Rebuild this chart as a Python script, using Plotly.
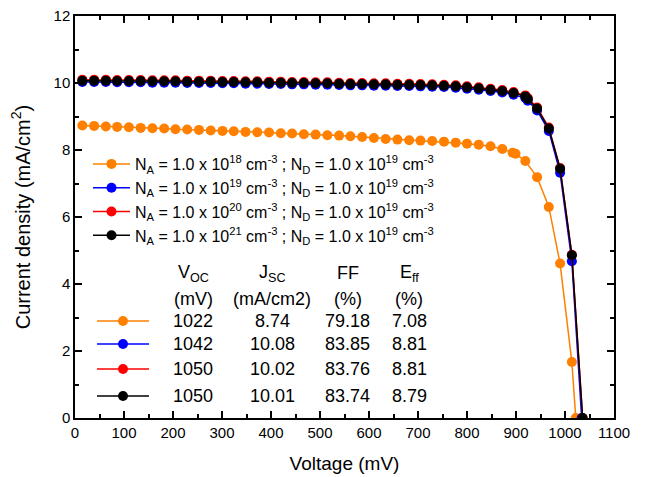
import plotly.graph_objects as go

# ---------------- data ----------------
v_org = [15, 39, 63, 86, 110, 134, 158, 182, 205, 229, 253, 277, 301, 324, 348, 372, 396, 420,
         443, 467, 491, 515, 539, 562, 586, 610, 634, 658, 682, 705, 729, 753, 777, 800, 824,
         848, 872, 893, 899, 919, 943, 967, 990, 1014, 1022]
j_org = [8.73, 8.72, 8.70, 8.69, 8.68, 8.66, 8.65, 8.64, 8.62, 8.61, 8.60, 8.58, 8.57, 8.56,
         8.54, 8.53, 8.52, 8.50, 8.49, 8.47, 8.46, 8.44, 8.43, 8.41, 8.39, 8.36, 8.33, 8.31,
         8.29, 8.28, 8.27, 8.25, 8.22, 8.19, 8.16, 8.11, 8.03, 7.92, 7.89, 7.67, 7.19, 6.30,
         4.61, 1.67, 0.0]

v_blu = [15, 39, 63, 86, 110, 134, 158, 182, 205, 229, 253, 277, 301, 324, 348, 372, 396, 420,
         443, 467, 491, 515, 539, 562, 586, 610, 634, 658, 682, 705, 729, 753, 777, 800, 824,
         848, 872, 895, 919, 924, 943, 967, 990, 1014, 1034]
j_blu = [10.03, 10.03, 10.03, 10.02, 10.02, 10.02, 10.01, 10.01, 10.01, 10.00, 10.00, 10.00,
         9.99, 9.99, 9.98, 9.98, 9.97, 9.97, 9.96, 9.96, 9.95, 9.95, 9.94, 9.93, 9.93, 9.92,
         9.92, 9.91, 9.91, 9.90, 9.89, 9.88, 9.86, 9.83, 9.80, 9.76, 9.72, 9.65, 9.55, 9.47,
         9.18, 8.57, 7.32, 4.68, 0.0]

v_red = [15, 39, 63, 86, 110, 134, 158, 182, 205, 229, 253, 277, 301, 324, 348, 372, 396, 420,
         443, 467, 491, 515, 539, 562, 586, 610, 634, 658, 682, 705, 729, 753, 777, 800, 824,
         848, 872, 895, 919, 924, 943, 967, 990, 1014, 1036]
j_red = [10.10, 10.10, 10.10, 10.09, 10.09, 10.09, 10.08, 10.08, 10.08, 10.07, 10.07, 10.07,
         10.06, 10.06, 10.05, 10.05, 10.04, 10.04, 10.03, 10.03, 10.02, 10.02, 10.01, 10.00,
         10.00, 9.99, 9.99, 9.98, 9.98, 9.97, 9.96, 9.95, 9.93, 9.90, 9.87, 9.83, 9.79, 9.73,
         9.63, 9.55, 9.27, 8.67, 7.46, 4.87, 0.0]

v_blk = [15, 39, 63, 86, 110, 134, 158, 182, 205, 229, 253, 277, 301, 324, 348, 372, 396, 420,
         443, 467, 491, 515, 539, 562, 586, 610, 634, 658, 682, 705, 729, 753, 777, 800, 824,
         848, 872, 895, 919, 924, 943, 967, 990, 1014, 1036]
j_blk = [10.07, 10.07, 10.07, 10.06, 10.06, 10.06, 10.05, 10.05, 10.05, 10.04, 10.04, 10.04,
         10.03, 10.03, 10.02, 10.02, 10.01, 10.01, 10.00, 10.00, 9.99, 9.99, 9.98, 9.97, 9.97,
         9.96, 9.96, 9.95, 9.95, 9.94, 9.93, 9.92, 9.90, 9.87, 9.84, 9.80, 9.76, 9.70, 9.60,
         9.52, 9.24, 8.64, 7.44, 4.86, 0.0]

na_exp = ["18", "19", "20", "21"]
nd_exp = "19"
colors = ["#FF8000", "#0000FF", "#FF0000", "#000000"]

voc = ["1022", "1042", "1050", "1050"]
jsc = ["8.74", "10.08", "10.02", "10.01"]
ff = ["79.18", "83.85", "83.76", "83.74"]
eff = ["7.08", "8.81", "8.81", "8.79"]

x_ticks = list(range(0, 1101, 100))
y_ticks = list(range(0, 13, 2))

# ---------------- figure ----------------
FONT = "Arial, Liberation Sans, sans-serif"
W, H = 649, 477
L, R, T, B = 75, 35, 16, 59
pw, ph = W - L - R, H - T - B

def px2paper(px, py):
    return (px - L) / pw, (H - B - py) / ph

series = [(v_org, j_org), (v_blu, j_blu), (v_red, j_red), (v_blk, j_blk)]
fig = go.Figure()
for (vx, jy), c, e in zip(series, colors, na_exp):
    name = ("N<sub>A</sub> = 1.0 x 10<sup>%s</sup> cm<sup>-3</sup> ; "
            "N<sub>D</sub> = 1.0 x 10<sup>%s</sup> cm<sup>-3</sup>" % (e, nd_exp))
    fig.add_trace(go.Scatter(x=vx, y=jy, mode="lines+markers", name=name,
                             line=dict(color=c, width=1.5),
                             marker=dict(color=c, size=10, line=dict(width=0))))

# ---------------- parameter table (text + sample symbols) ----------------
col_x = [193, 272, 348, 409]
head1 = ["V<sub>OC</sub>", "J<sub>SC</sub>", "FF", "E<sub>ff</sub>"]
head2 = ["(mV)", "(mA/cm2)", "(%)", "(%)"]
row_y = [321, 344, 369, 396]
tfont = dict(family=FONT, size=18, color="black")
ann = []
for cx, h1, h2 in zip(col_x, head1, head2):
    x, y = px2paper(cx, 273)
    ann.append(dict(x=x, y=y, xref="paper", yref="paper", text=h1, showarrow=False,
                    xanchor="center", yanchor="middle", font=tfont))
    x, y = px2paper(cx, 299)
    ann.append(dict(x=x, y=y, xref="paper", yref="paper", text=h2, showarrow=False,
                    xanchor="center", yanchor="middle", font=tfont))
shapes = []
for i, ry in enumerate(row_y):
    for cx, val in zip(col_x, [voc[i], jsc[i], ff[i], eff[i]]):
        x, y = px2paper(cx, ry)
        ann.append(dict(x=x, y=y, xref="paper", yref="paper", text=val, showarrow=False,
                        xanchor="center", yanchor="middle", font=tfont))
    x0, y0 = px2paper(97, ry)
    x1, _ = px2paper(149, ry)
    xm, _ = px2paper(123, ry)
    shapes.append(dict(type="line", xref="paper", yref="paper", x0=x0, x1=x1, y0=y0, y1=y0,
                       line=dict(color=colors[i], width=1.5)))
    shapes.append(dict(type="circle", xref="paper", yref="paper",
                       xsizemode="pixel", ysizemode="pixel", xanchor=xm, yanchor=y0,
                       x0=-5, x1=5, y0=-5, y1=5,
                       fillcolor=colors[i], line=dict(width=0)))

lx, ly = px2paper(88, 147)
fig.update_layout(
    width=W, height=H,
    margin=dict(l=L, r=R, t=T, b=B, autoexpand=False),
    paper_bgcolor="white", plot_bgcolor="white",
    font=dict(family=FONT, size=15, color="black"),
    showlegend=True,
    legend=dict(x=lx, y=ly, xanchor="left", yanchor="top", bgcolor="rgba(0,0,0,0)",
                font=dict(family=FONT, size=16, color="black"), tracegroupgap=0,
                itemwidth=37),
    annotations=ann, shapes=shapes,
)
axis_common = dict(showline=True, linecolor="black", linewidth=1.5, mirror="ticks",
                   ticks="inside", ticklen=7, tickwidth=1.5, tickcolor="black",
                   showgrid=False, zeroline=False, automargin=False,
                   tickfont=dict(family=FONT, size=15, color="black"))
fig.update_xaxes(range=[0, 1100], tickvals=x_ticks, **axis_common,
                 minor=dict(ticks="inside", ticklen=4, tickwidth=1.5, tickcolor="black", dtick=50),
                 title=dict(text="Voltage (mV)", font=dict(family=FONT, size=19), standoff=17))
fig.update_yaxes(range=[0, 12], tickvals=y_ticks, **axis_common,
                 minor=dict(ticks="inside", ticklen=4, tickwidth=1.5, tickcolor="black", dtick=1),
                 title=dict(text="Current density (mA/cm<sup>2</sup>)", font=dict(family=FONT, size=20),
                            standoff=18))

fig.write_html("out.html")
